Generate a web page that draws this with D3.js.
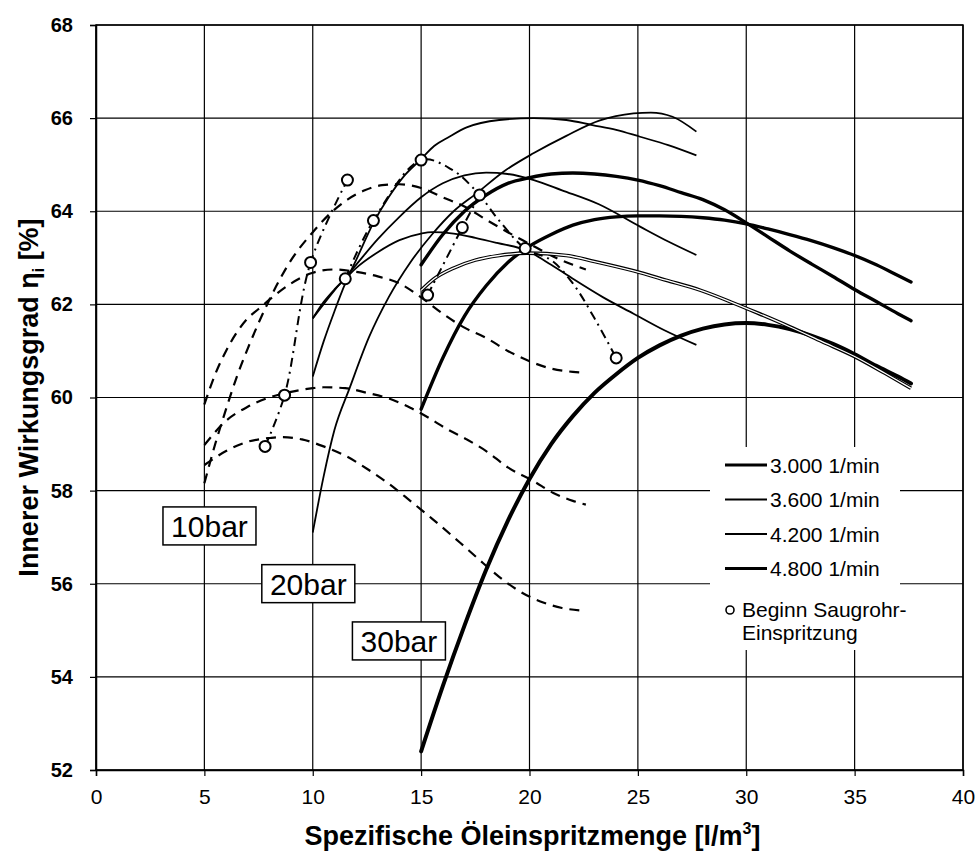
<!DOCTYPE html>
<html>
<head>
<meta charset="utf-8">
<title>Innerer Wirkungsgrad</title>
<script src="https://cdnjs.cloudflare.com/ajax/libs/d3/7.8.5/d3.min.js"></script>
<style>
body { margin: 0; background: #fff; }
text { font-family: "Liberation Sans", Arial, sans-serif; fill: #000; }
</style>
</head>
<body>
<div id="vis_container"></div>
<script>

// axis ticks
var xTicks = [0, 5, 10, 15, 20, 25, 30, 35, 40];
var yTicks = [52, 54, 56, 58, 60, 62, 64, 66, 68];

// 10bar curves (start at 5 l/m3)
var p10_a = [[5,58.16],[5.5,59.0],[6,59.75],[6.5,60.45],[7,61.05],[7.5,61.6],[8,62.1],[9,62.95],[10,63.55],[10.8,63.95],[11.6,64.25],[12.4,64.45],[13.2,64.56],[14,64.58],[15,64.5],[16,64.3],[17,64.1],[18,63.82],[19,63.55],[20,63.3],[21,63.05],[22,62.85],[22.6,62.75]];
var p10_b = [[5,59.85],[5.5,60.5],[6,61.0],[6.5,61.4],[7,61.7],[7.5,61.9],[8,62.1],[9,62.45],[10,62.68],[11,62.75],[12,62.7],[13,62.6],[14,62.45],[15,62.15],[16,61.8],[17,61.5],[18,61.28],[19,61.0],[20,60.78],[21,60.62],[22,60.55],[22.6,60.53]];
var p10_c = [[5,58.98],[6,59.5],[7,59.8],[8,60.0],[9,60.12],[10,60.2],[10.5,60.22],[11.5,60.2],[12.5,60.1],[13.5,59.98],[14.5,59.78],[15.4,59.55],[16.2,59.32],[17.1,59.1],[18,58.85],[19,58.5],[20.2,58.2],[21.1,57.95],[22,57.78],[22.6,57.7]];
var p10_d = [[5,58.55],[6,58.85],[7,59.05],[8,59.13],[8.5,59.15],[9.5,59.1],[10.5,58.95],[11.5,58.75],[12.5,58.47],[13.5,58.15],[14.5,57.78],[15.5,57.4],[16.8,56.88],[17.6,56.55],[18.6,56.15],[19.5,55.85],[20.5,55.62],[21.5,55.48],[22.6,55.42]];

// 20bar curves (start at 10 l/m3)
var p20_a = [[10,60.45],[10.5,61.2],[11,61.85],[11.5,62.45],[12,62.95],[12.8,63.75],[13.5,64.3],[14.2,64.75],[15,65.12],[15.6,65.4],[16.3,65.6],[17.1,65.8],[18.6,65.96],[20.2,66.0],[21.7,65.96],[22.9,65.85],[24,65.75],[25.1,65.6],[26.4,65.42],[27.7,65.2]];
var p20_b = [[10,61.7],[11,62.3],[12,62.85],[13,63.4],[14,63.88],[15,64.3],[16,64.6],[17,64.77],[18,64.83],[19,64.8],[20.2,64.67],[21.5,64.45],[23.2,64.15],[25.1,63.67],[26.4,63.35],[27.7,63.06]];
var p20_c = [[10,57.1],[10.5,58.3],[11,59.3],[11.7,60.2],[12.6,61.3],[13.5,62.15],[14.5,62.9],[15.5,63.5],[16.5,64.0],[17.6,64.4],[18.8,64.85],[20.2,65.25],[21.7,65.62],[23.25,65.95],[24.8,66.1],[25.6,66.12],[26.6,66.03],[27.7,65.71]];
var p20_d = [[10,61.7],[10.5,62.05],[11,62.32],[11.5,62.55],[12,62.78],[13,63.12],[14,63.38],[15,63.52],[15.5,63.55],[16.5,63.52],[17.5,63.43],[18.5,63.32],[19.9,63.15],[21,62.85],[22,62.55],[23.4,62.15],[24.8,61.8],[26.2,61.45],[27.7,61.13]];

// 30bar curves (start at 15 l/m3)
var p30_a = [[15,52.4],[16,53.8],[17,55.1],[18,56.3],[19,57.35],[20,58.25],[21,59.0],[22,59.6],[23,60.1],[24,60.5],[25,60.85],[26,61.12],[27,61.33],[28,61.48],[29,61.57],[30,61.6],[31,61.56],[32,61.47],[33,61.33],[34,61.15],[35,60.93],[36,60.68],[37,60.45],[37.6,60.3]];
var p30_b = [[15,59.75],[16,60.85],[17,61.75],[18,62.4],[19,62.9],[20,63.25],[21,63.5],[22,63.7],[23,63.82],[24,63.88],[25,63.9],[26,63.9],[27,63.89],[28,63.86],[29,63.81],[30,63.73],[31,63.62],[32,63.5],[33,63.37],[34,63.22],[35,63.05],[36,62.85],[37,62.62],[37.6,62.48]];
var p30_c = [[15,62.85],[16,63.5],[17,64.0],[18,64.35],[19,64.6],[20,64.72],[21,64.8],[22,64.82],[23,64.8],[24,64.75],[25,64.67],[26,64.55],[27,64.4],[28,64.25],[29,64.03],[30,63.75],[31,63.45],[32,63.15],[33,62.87],[34,62.6],[35,62.32],[36,62.06],[37,61.8],[37.6,61.65]];
var p30_d = [[15,62.3],[15.6,62.55],[16.5,62.78],[17.5,62.95],[18.6,63.05],[19.9,63.1],[21.7,63.05],[23,62.92],[24.8,62.72],[26.3,62.52],[27.9,62.3],[29.3,62.05],[30.5,61.82],[32,61.52],[33.5,61.2],[35,60.88],[36.4,60.52],[37.6,60.2]];

// Beginn Saugrohr-Einspritzung
var injStart = [[7.8,58.95],[8.7,60.05],[9.9,62.9],[11.6,64.67],[11.5,62.55],[12.8,63.8],[15.0,65.1],[15.3,62.2],[16.9,63.65],[17.7,64.35],[19.8,63.2],[24.0,60.85]];
var locus10 = [[7.8,58.95],[8.7,60.05],[9.9,62.9],[11.6,64.67]];
var locus20 = [[11.5,62.55],[12.8,63.8],[15.0,65.1],[16.4,64.9],[17.6,64.4],[18.6,63.8],[19.8,63.2],[21.0,62.95],[22.0,62.45],[23.0,61.7],[24.0,60.85]];
var locus30 = [[15.3,62.2],[16.9,63.65],[17.7,64.35]];

var loadLabels = ["10bar", "20bar", "30bar"];
var loadLabelPos = [[3.09,57.65],[7.65,56.41],[11.83,55.18]];

var legendNames = ["3.000 1/min", "3.600 1/min", "4.200 1/min", "4.800 1/min"];
var legendWidths = [3.2, 2.2, 2.2, 3.2];

var width = 977, height = 856;
var margin = {top: 25, right: 14, bottom: 86, left: 96};
var w = width - margin.left - margin.right;
var h = height - margin.top - margin.bottom;

var svg = d3.select("#vis_container")
    .append("svg")
    .attr("width", width)
    .attr("height", height);

var g = svg.append("g")
    .attr("transform", "translate(" + margin.left + "," + margin.top + ")");

var x = d3.scaleLinear().domain([0, 40]).range([0, w]);
var y = d3.scaleLinear().domain([52, 68]).range([h, 0]);

// grid
g.append("g").selectAll("line").data(xTicks).enter().append("line")
    .attr("x1", d => x(d)).attr("x2", d => x(d))
    .attr("y1", 0).attr("y2", h)
    .attr("stroke", "#000").attr("stroke-width", 1.2);
g.append("g").selectAll("line").data(yTicks).enter().append("line")
    .attr("x1", 0).attr("x2", w)
    .attr("y1", d => y(d)).attr("y2", d => y(d))
    .attr("stroke", "#000").attr("stroke-width", 1.2);

// axes
var xAxis = g.append("g")
    .attr("transform", "translate(0," + h + ")")
    .call(d3.axisBottom(x).tickValues(xTicks).tickSize(6).tickPadding(13));
var yAxis = g.append("g")
    .call(d3.axisLeft(y).tickValues(yTicks).tickSize(6).tickPadding(17));
[xAxis, yAxis].forEach(function(a) {
    a.select(".domain").attr("stroke", "#000").attr("stroke-width", 1.5);
    a.selectAll(".tick line").attr("stroke", "#000").attr("stroke-width", 1.2);
    a.selectAll("text").style("font-family", "'Liberation Sans', Arial, sans-serif").attr("fill", "#000");
});
xAxis.selectAll("text").style("font-size", "21px");
yAxis.selectAll("text").style("font-size", "20px").style("font-weight", "bold");

g.append("rect").attr("width", w).attr("height", h)
    .attr("fill", "none").attr("stroke", "#000").attr("stroke-width", 1.5);

var smooth = d3.line().x(d => x(d[0])).y(d => y(d[1])).curve(d3.curveMonotoneX);
var loose = d3.line().x(d => x(d[0])).y(d => y(d[1])).curve(d3.curveCatmullRom.alpha(0.5));

var curves = g.append("g").attr("fill", "none");

// 10bar - dashed
[p10_a, p10_b, p10_c, p10_d].forEach(function(p) {
    curves.append("path").attr("d", smooth(p))
        .attr("stroke", "#000").attr("stroke-width", 2.2)
        .attr("stroke-dasharray", "10,7");
});

// 20bar - thin solid
[p20_a, p20_b, p20_c, p20_d].forEach(function(p) {
    curves.append("path").attr("d", smooth(p))
        .attr("stroke", "#000").attr("stroke-width", 1.8);
});

// 30bar - thick / double
[p30_a, p30_b, p30_c].forEach(function(p, i) {
    curves.append("path").attr("d", smooth(p))
        .attr("stroke", "#000").attr("stroke-width", i == 0 ? 4 : 3.4)
        .attr("stroke-linecap", "round");
});
curves.append("path").attr("d", smooth(p30_d))
    .attr("stroke", "#000").attr("stroke-width", 3.6);
curves.append("path").attr("d", smooth(p30_d))
    .attr("stroke", "#fff").attr("stroke-width", 1.3);

// dash-dot loci
[locus10, locus20, locus30].forEach(function(p) {
    curves.append("path").attr("d", loose(p))
        .attr("stroke", "#000").attr("stroke-width", 2)
        .attr("stroke-dasharray", "9,5,2,5");
});

g.append("g").selectAll("circle").data(injStart).enter().append("circle")
    .attr("cx", d => x(d[0])).attr("cy", d => y(d[1]))
    .attr("r", 5.5)
    .attr("fill", "#fff").attr("stroke", "#000").attr("stroke-width", 2);

// load labels
loadLabels.forEach(function(t, i) {
    var lx = x(loadLabelPos[i][0]), ly = y(loadLabelPos[i][1]);
    g.append("rect").attr("x", lx).attr("y", ly)
        .attr("width", 93).attr("height", 38)
        .attr("fill", "#fff").attr("stroke", "#000").attr("stroke-width", 1.5);
    g.append("text").attr("x", lx + 46.5).attr("y", ly + 30)
        .attr("text-anchor", "middle")
        .style("font-size", "30px")
        .text(t);
});

// legend
var leg = svg.append("g").attr("transform", "translate(710,447)");
leg.append("rect").attr("width", 190).attr("height", 203).attr("fill", "#fff");
legendNames.forEach(function(t, i) {
    var ry = 18 + i * 34.5;
    leg.append("line").attr("x1", 15).attr("x2", 57).attr("y1", ry).attr("y2", ry)
        .attr("stroke", "#000").attr("stroke-width", legendWidths[i]);
    leg.append("text").attr("x", 60).attr("y", ry + 7.5)
        .style("font-size", "21px").text(t);
});
leg.append("circle").attr("cx", 20).attr("cy", 163).attr("r", 4)
    .attr("fill", "#fff").attr("stroke", "#000").attr("stroke-width", 1.6);
leg.append("text").attr("x", 32).attr("y", 170).style("font-size", "21px").text("Beginn Saugrohr-");
leg.append("text").attr("x", 32).attr("y", 193).style("font-size", "21px").text("Einspritzung");

// axis titles
var xt = svg.append("text")
    .attr("x", margin.left + w / 2 + 3).attr("y", 845)
    .attr("text-anchor", "middle")
    .style("font-size", "27px").style("font-weight", "bold");
xt.append("tspan").text("Spezifische Öleinspritzmenge [l/m");
xt.append("tspan").attr("dy", -11).style("font-size", "16px").text("3");
xt.append("tspan").attr("dy", 11).text("]");

var yt = svg.append("text")
    .attr("transform", "translate(38," + (margin.top + h / 2) + ") rotate(-90)")
    .attr("text-anchor", "middle")
    .style("font-size", "27px").style("font-weight", "bold");
yt.append("tspan").text("Innerer Wirkungsgrad η");
yt.append("tspan").attr("dy", 6).style("font-size", "16px").text("i");
yt.append("tspan").attr("dy", -6).text(" [%]");

</script>
</body>
</html>
